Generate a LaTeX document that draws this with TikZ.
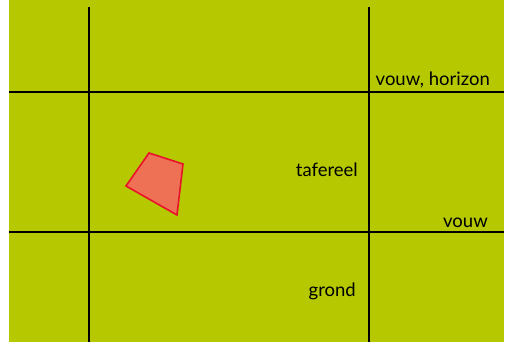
\documentclass[tikz,border=0pt]{standalone}
\usepackage{fontspec}
\setmainfont{Lato}
\definecolor{bggreen}{RGB}{181,200,0}
\definecolor{polyfill}{RGB}{238,112,85}
\definecolor{polyline}{RGB}{232,19,42}
\begin{document}
\begin{tikzpicture}[x=1pt,y=-1pt,
  gridline/.style={line width=2.2pt,black},
  lbl/.style={anchor=base east,inner sep=0pt,font=\fontsize{18.5}{20}\selectfont}]
\useasboundingbox (0,0) rectangle (508,342);
\fill[bggreen] (9,0) rectangle (504,342);
\coordinate (v1t) at (89,7); \coordinate (v1b) at (89,342);
\coordinate (v2t) at (369,7); \coordinate (v2b) at (369,342);
\coordinate (h1l) at (9,92); \coordinate (h1r) at (504,92);
\coordinate (h2l) at (9,232); \coordinate (h2r) at (504,232);
\draw[gridline] (v1t) -- (v1b);
\draw[gridline] (v2t) -- (v2b);
\draw[gridline] (h1l) -- (h1r);
\draw[gridline] (h2l) -- (h2r);
\draw[polyline,fill=polyfill,line width=1.6pt,line join=miter]
  (149,153) -- (183,164) -- (177,215) -- (126,186) -- cycle;
\node[lbl] (hor) at (490,86) {vouw, horizon};
\node[lbl] (taf) at (358,176) {tafereel};
\node[lbl] (vouw) at (488,227) {vouw};
\node[lbl] (grond) at (356,296) {grond};
\end{tikzpicture}
\end{document}
